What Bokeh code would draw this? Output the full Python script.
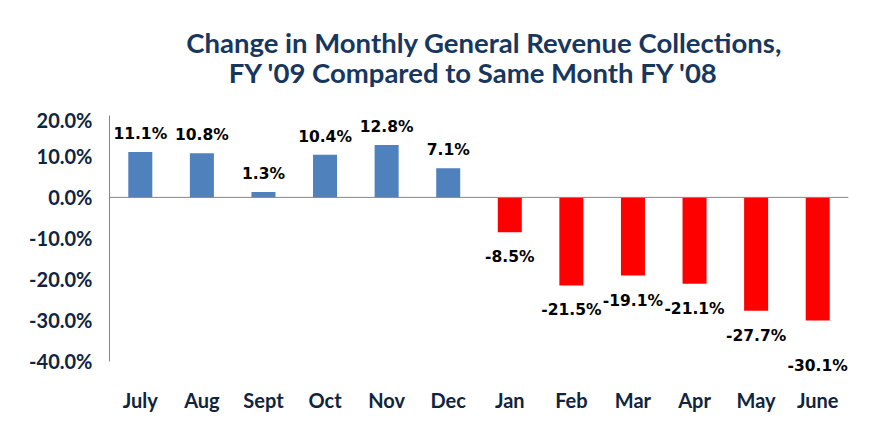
from bokeh.plotting import figure
from bokeh.layouts import column
from bokeh.models import ColumnDataSource, FixedTicker, PrintfTickFormatter, Span, Range1d
from bokeh.core.properties import value
from bokeh.embed import file_html
from bokeh.resources import INLINE

months = ["July", "Aug", "Sept", "Oct", "Nov", "Dec", "Jan", "Feb", "Mar", "Apr", "May", "June"]
changes = [11.1, 10.8, 1.3, 10.4, 12.8, 7.1, -8.5, -21.5, -19.1, -21.1, -27.7, -30.1]
y_ticks = [-40, -30, -20, -10, 0, 10, 20]
title_lines = ["Change in Monthly General Revenue Collections,",
               "FY '09 Compared to Same Month FY '08"]

POS_COLOR = "#4F81BD"
NEG_COLOR = "#FF0000"
NAVY = "#17375E"
AXIS_NAVY = "#0F243E"

W = 863
TITLE_H = 107

# ---- title strip (pixel coordinate space, y downward) ----
t = figure(width=W, height=TITLE_H, x_range=Range1d(0, W), y_range=Range1d(TITLE_H, 0),
           x_axis_type=None, y_axis_type=None, output_backend="svg",
           toolbar_location=None, min_border=0)
t.outline_line_color = None
t.xgrid.visible = False
t.ygrid.visible = False
t.text(x=[437.5, 425.5], y=[41.5, 72], text=title_lines,
       text_align="center", text_baseline="middle",
       text_font=value("Lato"), text_font_style="bold",
       text_font_size="27.5px", text_color=NAVY)

# ---- chart ----
# label offsets (style): above positive bars, below negative bars;
# the last label sits lower, as in the original
def label_offset(i, v):
    if v >= 0:
        return -18
    return 45 if i == len(changes) - 1 else 25

src = ColumnDataSource(dict(
    month=months,
    change=changes,
    color=[POS_COLOR if v >= 0 else NEG_COLOR for v in changes],
    label=["%.1f%%" % v for v in changes],
    yoff=[label_offset(i, v) for i, v in enumerate(changes)],
))

# frame extends a little below -40% so the lowest data label is not clipped;
# the axis line itself is bounded to -40%..20%
p = figure(x_range=months, y_range=(-44, 20), width=W, height=436 - TITLE_H,
           output_backend="svg", toolbar_location=None,
           min_border_left=109, min_border_right=15,
           min_border_top=115 - TITLE_H, min_border_bottom=59)
p.outline_line_color = None
p.xgrid.grid_line_color = None
p.ygrid.grid_line_color = None
p.x_range.range_padding = 0

p.vbar(x="month", top="change", bottom=0, width=0.39, fill_color="color",
       line_color=None, source=src)

p.add_layout(Span(location=0, dimension="width", line_color="#868686", line_width=1))

p.text(x="month", y="change", text="label", y_offset="yoff", source=src,
       text_align="center", text_baseline="middle",
       text_font=value("DejaVu Sans"), text_font_style="bold",
       text_font_size="15.5px", text_color="black")

p.yaxis.ticker = FixedTicker(ticks=y_ticks)
p.yaxis.bounds = (-40, 20)
p.yaxis.formatter = PrintfTickFormatter(format="%.1f%%")
p.yaxis.axis_line_color = "#868686"
p.yaxis.major_tick_line_color = None
p.yaxis.minor_tick_line_color = None
p.yaxis.major_tick_out = 0
p.yaxis.major_tick_in = 0
p.yaxis.major_label_standoff = 17
p.yaxis.major_label_text_font = "Lato"
p.yaxis.major_label_text_font_style = "bold"
p.yaxis.major_label_text_font_size = "20px"
p.yaxis.major_label_text_color = AXIS_NAVY

p.xaxis.axis_line_color = None
p.xaxis.major_tick_line_color = None
p.xaxis.minor_tick_line_color = None
p.xaxis.major_tick_out = 0
p.xaxis.major_tick_in = 0
p.xaxis.major_label_standoff = 10
p.xaxis.major_label_text_font = "Lato"
p.xaxis.major_label_text_font_style = "bold"
p.xaxis.major_label_text_font_size = "20px"
p.xaxis.major_label_text_color = AXIS_NAVY

layout = column(t, p, spacing=0)
open("out.html", "w").write(file_html(layout, INLINE))
